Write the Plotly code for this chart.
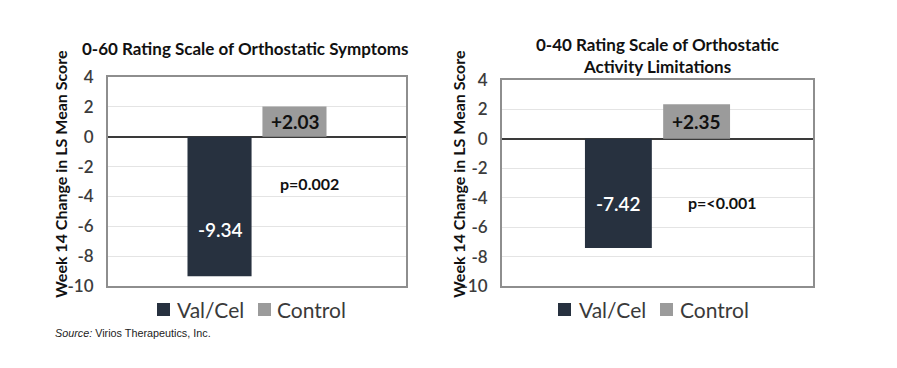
import plotly.graph_objects as go

# ---- data ----
panel_titles = ["0-60 Rating Scale of Orthostatic Symptoms",
                "0-40 Rating Scale of Orthostatic<br>Activity Limitations"]
series_names = ["Val/Cel", "Control"]
valcel_values = [-9.34, -7.42]
control_values = [2.03, 2.35]
p_values = ["p=0.002", "p=<0.001"]
y_title = "Week 14 Change in LS Mean Score"
y_ticks = [4, 2, 0, -2, -4, -6, -8, -10]
y_tick_labels = ["4", "2", "0", "-2", "-4", "-6", "-8", "-10"]
source_note = "<i>Source:</i> Virios Therapeutics, Inc."
category = ["Week 14"]

NAVY = "#27313f"
GREY = "#9b9b9b"
OFF = 8  # default page body margin
W, H = 897 - 2 * OFF, 368 - 2 * OFF


def px(x):
    return (x - OFF) / W


def py(y):
    return 1 - (y - OFF) / H


fig = go.Figure()
axes = [("x", "y"), ("x2", "y2")]
for i, (xa, ya) in enumerate(axes):
    fig.add_trace(go.Bar(x=category, y=[valcel_values[i]], name=series_names[0],
                         marker=dict(color=NAVY, line=dict(width=0)),
                         xaxis=xa, yaxis=ya, showlegend=False, hoverinfo="skip"))
    fig.add_trace(go.Bar(x=category, y=[control_values[i]], name=series_names[1],
                         marker=dict(color=GREY, line=dict(width=0)),
                         xaxis=xa, yaxis=ya, showlegend=False, hoverinfo="skip"))

FONT = "Lato"
common_x = dict(showticklabels=False, showgrid=False, zeroline=False, automargin=False,
                showline=True, mirror=True, linecolor="#8e8e8e", linewidth=2,
                ticks="", fixedrange=True)
common_y = dict(range=[-10, 4], tickvals=y_ticks, ticktext=y_tick_labels,
                showgrid=True, gridcolor="#e4e4e4",
                gridwidth=1, zeroline=True, zerolinecolor="#3a3a3a", zerolinewidth=1.5,
                showline=True, mirror=True, linecolor="#8e8e8e", linewidth=2,
                ticks="", automargin=False,
                tickfont=dict(family=FONT, size=17, color="#3c3c3c", weight=600),
                ticklabelstandoff=9, fixedrange=True)

fig.update_layout(
    template="none",
    width=W, height=H, margin=dict(l=0, r=0, t=0, b=0, autoexpand=False),
    paper_bgcolor="white", plot_bgcolor="white",
    barmode="group", bargap=0.497, bargroupgap=0.145,
    xaxis=dict(domain=[px(108), px(406)], anchor="y", **common_x),
    yaxis=dict(domain=[py(286), py(77)], anchor="x", **common_y),
    xaxis2=dict(domain=[px(502), px(813)], anchor="y2", **common_x),
    yaxis2=dict(domain=[py(286), py(80)], anchor="x2", **common_y),
    showlegend=False,
)

ann = []


def add(text, x, y, yref="paper", size=16, color="#111", family=FONT, xanchor="center",
        yanchor="middle", **kw):
    ann.append(dict(text=text, x=x, y=y, xref="paper", yref=yref, xanchor=xanchor,
                    yanchor=yanchor, showarrow=False,
                    font=dict(family=family, size=size, color=color, **kw.pop("font", {})), **kw))


# panel titles
add(f"<b>{panel_titles[0]}</b>", px(245), py(49), size=17, font=dict(weight=900))
add(f"<b>{panel_titles[1]}</b>", px(657), py(55), size=17, font=dict(weight=900))
# y axis titles
for xpos in (60, 458):
    add(f"<b>{y_title}</b>", px(xpos), py(174), textangle=-90)

# bar value labels
label_pos = [  # (x px of valcel label, y data of valcel label, x px control, yref)
    (220, -6.2, 295, "y"),
    (618, -4.4, 696, "y2"),
]
p_pos = [(309, -3.15), (722, -4.35)]
for i, (xv, yv, xc, yr) in enumerate(label_pos):
    add(f"{valcel_values[i]:.2f}", px(xv), yv, yref=yr, size=19, color="white",
        font=dict(weight=600))
    add(f"<b>{control_values[i]:+.2f}</b>", px(xc), control_values[i] / 2, yref=yr, size=19)
    add(f"<b>{p_values[i]}</b>", px(p_pos[i][0]), p_pos[i][1], yref=yr, size=16)

# legends (squares + text)
shapes = []
legend_items = [
    (157, 175, 258, 275),
    (558, 577, 660, 678),
]
for sq1, t1, sq2, t2 in legend_items:
    for sq, t, name, col in ((sq1, t1, series_names[0], NAVY), (sq2, t2, series_names[1], GREY)):
        shapes.append(dict(type="rect", xref="paper", yref="paper",
                           x0=px(sq), x1=px(sq + 13), y0=py(316), y1=py(303),
                           fillcolor=col, line=dict(width=0)))
        add(name, px(t), py(309), size=21, color="#3a3a3a", xanchor="left")

add(source_note, px(53), py(333), size=10.8, color="#222", family="Liberation Sans",
    xanchor="left")

fig.update_layout(annotations=ann, shapes=shapes)
fig.write_html("out.html")
